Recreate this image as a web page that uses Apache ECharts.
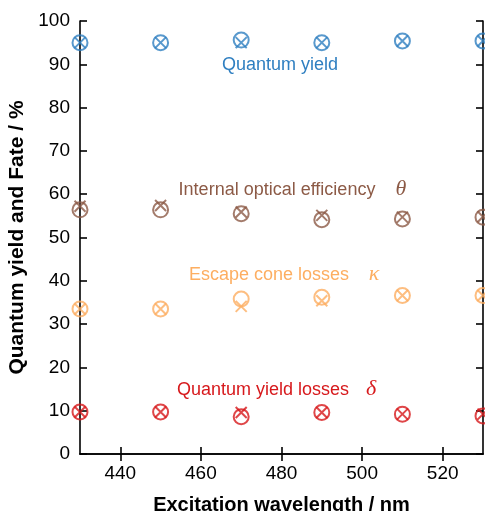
<!DOCTYPE html>
<html>
<head>
<meta charset="utf-8">
<script src="https://cdn.jsdelivr.net/npm/echarts@6/dist/echarts.min.js"></script>
<style>
  html, body { margin: 0; padding: 0; background: #fff; }
  #chart { width: 485px; height: 511px; }
</style>
</head>
<body>
<div id="chart"></div>
<script>
// excitation wavelengths (nm)
const wavelengths = [430, 450, 470, 490, 510, 530]
const xTicks = [440, 460, 480, 500, 520]

// circles and crosses, values in %
const qyCircle = [95.0, 95.0, 95.6, 95.0, 95.4, 95.4]
const qyCross = [95.0, 95.0, 95.0, 95.0, 95.4, 95.4]
const ioeCircle = [56.4, 56.4, 55.5, 54.1, 54.3, 54.7]
const ioeCross = [57.2, 57.4, 55.9, 55.1, 54.7, 54.8]
const eclCircle = [33.5, 33.5, 35.8, 36.2, 36.6, 36.6]
const eclCross = [33.5, 33.5, 34.1, 35.4, 36.6, 36.6]
const qylCircle = [9.7, 9.7, 8.6, 9.6, 9.2, 8.8]
const qylCross = [9.7, 9.7, 9.6, 9.6, 9.2, 9.2]

const BLUE = '#2f7fc1'
const BROWN = '#8c5a46'
const ORANGE = '#fdae61'
const RED = '#d7191c'
const FONT = 'Liberation Sans, Arial, sans-serif'

const CROSS = 'path://M0,0L10,10M10,0L0,10'

const pairs = (ys) => wavelengths.map((x, i) => [x, ys[i]])

const circleSeries = (ys, color) => ({
  type: 'scatter',
  data: pairs(ys),
  symbol: 'circle',
  symbolSize: 15,
  clip: false,
  itemStyle: { color: 'rgba(0,0,0,0)', borderColor: color, borderWidth: 2 },
  emphasis: { disabled: true }
})

const crossSeries = (ys, color) => ({
  type: 'scatter',
  data: pairs(ys),
  symbol: CROSS,
  symbolSize: 11,
  clip: false,
  itemStyle: { color: 'rgba(0,0,0,0)', borderColor: color, borderWidth: 2 },
  emphasis: { disabled: true }
})

const label = (text, x, y, color, extra) => ({
  type: 'text',
  x: x,
  y: y,
  style: Object.assign({
    text: text,
    fill: color,
    font: '18px ' + FONT,
    textAlign: 'center',
    textVerticalAlign: 'middle'
  }, extra || {})
})

const greek = (text, x, y, color) =>
  label(text, x, y, color, { font: 'italic 22px Liberation Serif, DejaVu Serif, serif' })

const chart = echarts.init(document.getElementById('chart'))

const xBase = {
  type: 'value',
  min: 430,
  max: 530,
  axisLine: { show: true, lineStyle: { color: '#000', width: 1.6 } },
  axisTick: { inside: true, length: 7, customValues: xTicks, lineStyle: { color: '#000', width: 1.6 } },
  splitLine: { show: false }
}

const yBase = {
  type: 'value',
  min: 0,
  max: 100,
  interval: 10,
  axisLine: { show: true, lineStyle: { color: '#000', width: 1.6 } },
  axisTick: { inside: true, length: 7, lineStyle: { color: '#000', width: 1.6 } },
  splitLine: { show: false }
}

chart.setOption({
  animation: false,
  grid: { left: 80, right: 2, top: 21, bottom: 57, containLabel: false, outerBoundsMode: 'none' },
  xAxis: [
    Object.assign({}, xBase, {
      position: 'bottom',
      name: 'Excitation wavelength / nm',
      nameLocation: 'middle',
      nameGap: 41,
      nameTextStyle: { color: '#000', fontSize: 20, fontWeight: 'bold', fontFamily: FONT },
      axisLabel: { customValues: xTicks, color: '#000', fontSize: 19, fontFamily: FONT, margin: 10 }
    }),
    Object.assign({}, xBase, { position: 'top', axisLabel: { show: false } })
  ],
  yAxis: [
    Object.assign({}, yBase, {
      position: 'left',
      name: 'Quantum yield and Fate / %',
      nameLocation: 'middle',
      nameGap: 50,
      nameTextStyle: { color: '#000', fontSize: 21, fontWeight: 'bold', fontFamily: FONT },
      axisLabel: { color: '#000', fontSize: 19, fontFamily: FONT, margin: 10 }
    }),
    Object.assign({}, yBase, { position: 'right', axisLabel: { show: false } })
  ],
  series: [
    circleSeries(qyCircle, BLUE),
    crossSeries(qyCross, BLUE),
    circleSeries(ioeCircle, BROWN),
    crossSeries(ioeCross, BROWN),
    circleSeries(eclCircle, ORANGE),
    crossSeries(eclCross, ORANGE),
    circleSeries(qylCircle, RED),
    crossSeries(qylCross, RED)
  ],
  graphic: [
    label('Quantum yield', 280, 65, BLUE),
    label('Internal optical efficiency', 277, 190, BROWN),
    greek('θ', 401, 189, BROWN),
    label('Escape cone losses', 269, 275, ORANGE),
    greek('κ', 374, 274, ORANGE),
    label('Quantum yield losses', 263, 390, RED),
    greek('δ', 371, 389, RED)
  ]
})
</script>
</body>
</html>
